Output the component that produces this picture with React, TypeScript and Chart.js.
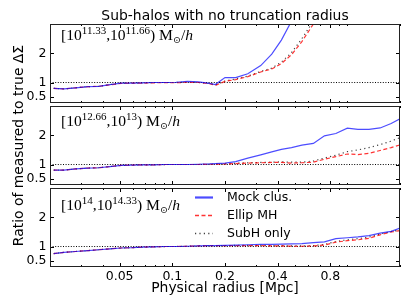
import React, { useEffect, useRef } from 'react';
import { Chart, registerables } from 'chart.js';

Chart.register(...registerables);

// ---------------- data ----------------
const radii = [0.021, 0.024, 0.028, 0.033, 0.038, 0.044, 0.051, 0.059, 0.068, 0.079, 0.091, 0.105, 0.122, 0.141, 0.163, 0.176, 0.2, 0.23, 0.27, 0.32, 0.37, 0.42, 0.48, 0.55, 0.64, 0.74, 0.86, 1.0, 1.15, 1.33, 1.54, 1.78, 2.0];

const p1Mock = [0.80, 0.78, 0.82, 0.86, 0.87, 0.93, 0.98, 0.98, 0.99, 1.0, 1.0, 1.01, 1.04, 1.02, 0.97, 0.93, 1.17, 1.17, 1.3, 1.58, 1.97, 2.45, 3.1, 3.8, 4.6, 5.5, 6.4, 7.3, 8.2, 9.0, 9.8, 10.5, 11.2];
const p1Ellip = [0.80, 0.78, 0.82, 0.86, 0.87, 0.92, 0.97, 0.98, 0.98, 0.99, 1.0, 0.99, 1.01, 1.0, 0.96, 0.90, 1.04, 1.1, 1.2, 1.36, 1.46, 1.65, 1.95, 2.4, 3.0, 3.7, 4.5, 5.3, 6.1, 6.9, 7.7, 8.5, 9.2];
const p1SubH = [0.80, 0.78, 0.82, 0.86, 0.87, 0.93, 0.98, 0.98, 0.99, 1.0, 1.0, 1.0, 1.01, 1.0, 0.97, 0.92, 1.05, 1.12, 1.22, 1.38, 1.49, 1.7, 2.02, 2.5, 3.1, 3.8, 4.6, 5.4, 6.2, 7.0, 7.8, 8.6, 9.3];

const p2Mock = [0.81, 0.81, 0.85, 0.88, 0.89, 0.93, 0.97, 0.98, 0.99, 0.99, 1.0, 1.0, 1.0, 1.01, 1.02, 1.03, 1.05, 1.1, 1.22, 1.33, 1.43, 1.52, 1.58, 1.66, 1.72, 1.98, 2.06, 2.24, 2.2, 2.2, 2.25, 2.4, 2.56];
const p2Ellip = [0.81, 0.81, 0.85, 0.88, 0.89, 0.93, 0.97, 0.98, 0.99, 0.99, 1.0, 1.0, 1.0, 1.0, 1.01, 1.01, 1.02, 1.03, 1.05, 1.06, 1.07, 1.07, 1.05, 1.06, 1.08, 1.18, 1.27, 1.36, 1.34, 1.38, 1.48, 1.58, 1.67];
const p2SubH = [0.81, 0.81, 0.85, 0.88, 0.89, 0.93, 0.97, 0.98, 0.99, 0.99, 1.0, 1.0, 1.0, 1.0, 1.01, 1.01, 1.02, 1.04, 1.06, 1.07, 1.08, 1.09, 1.08, 1.08, 1.12, 1.22, 1.32, 1.44, 1.5, 1.58, 1.68, 1.8, 1.92];

const p3Mock = [0.76, 0.8, 0.83, 0.86, 0.89, 0.92, 0.95, 0.96, 0.98, 0.99, 1.0, 1.0, 1.01, 1.02, 1.03, 1.03, 1.04, 1.05, 1.06, 1.07, 1.07, 1.08, 1.09, 1.1, 1.13, 1.16, 1.27, 1.3, 1.33, 1.37, 1.46, 1.52, 1.63];
const p3Ellip = [0.76, 0.8, 0.83, 0.86, 0.89, 0.92, 0.95, 0.96, 0.98, 0.99, 1.0, 1.0, 1.01, 1.02, 1.03, 1.03, 1.03, 1.03, 1.03, 1.03, 1.02, 1.02, 1.01, 1.01, 1.02, 1.05, 1.15, 1.2, 1.23, 1.28, 1.4, 1.5, 1.54];
const p3SubH = [0.76, 0.8, 0.83, 0.86, 0.89, 0.92, 0.95, 0.96, 0.98, 0.99, 1.0, 1.0, 1.01, 1.02, 1.03, 1.03, 1.03, 1.04, 1.04, 1.04, 1.03, 1.03, 1.02, 1.02, 1.03, 1.07, 1.17, 1.23, 1.27, 1.32, 1.43, 1.51, 1.57];

const refX = [0.02, 2];
const refY = [1, 1];

const seriesNames = ['Mock clus.', 'Ellip MH', 'SubH only'];
const panelSeries = [
  [p1Mock, p1Ellip, p1SubH],
  [p2Mock, p2Ellip, p2SubH],
  [p3Mock, p3Ellip, p3SubH],
];
const massLo = ['11.33', '12.66', '14'];
const massHi = ['11.66', '13', '14.33'];

const xTickValues = [0.05, 0.1, 0.2, 0.4, 0.8];
const xTickLabels = ['0.05', '0.1', '0.2', '0.4', '0.8'];
const xMinorValues = [0.02, 0.03, 0.04, 0.06, 0.07, 0.08, 0.09, 0.3, 0.5, 0.6, 0.7, 0.9, 1, 2];
const yTickValues = [0.5, 1, 2];
const yTickLabels = ['0.5', '1', '2'];

const titleText = 'Sub-halos with no truncation radius';
const yTitleText = 'Ratio of measured to true ΔΣ';
const xTitleText = 'Physical radius [Mpc]';

// ---------------- layout / style ----------------
const W = 407;
const H = 307;
const SANS = '"DejaVu Sans", sans-serif';
const SERIF = '"Liberation Serif", "DejaVu Serif", serif';
const PANEL_TOP = [24, 106, 188];
const PANEL_BOTTOM = [103, 185, 267];
const LABEL_OFFSET = [16, 20, 22];

const seriesStyle = [
  { color: 'rgba(0,0,255,0.7)', dash: [] as number[], width: 1.2, legendWidth: 2.2 },
  { color: 'rgba(255,0,0,0.8)', dash: [4, 2.5], width: 1.2, legendWidth: 1.3 },
  { color: 'rgba(0,0,0,0.75)', dash: [1.2, 3.2], width: 1.2, legendWidth: 1.3 },
];

function drawMassLabel(ctx: CanvasRenderingContext2D, x: number, y: number, lo: string, hi: string) {
  const big = `15.6px ${SERIF}`;
  const small = `11px ${SERIF}`;
  const parts = [
    { t: '[10', f: big, dy: 0 },
    { t: lo, f: small, dy: -6.5 },
    { t: ',10', f: big, dy: 0 },
    { t: hi, f: small, dy: -6.5 },
    { t: ') M', f: big, dy: 0 },
    { t: '⊙', f: `9.5px "DejaVu Serif", serif`, dy: 3 },
    { t: '/', f: big, dy: 0 },
    { t: 'h', f: `italic 15.6px ${SERIF}`, dy: 0 },
  ];
  let cx = x;
  ctx.fillStyle = '#000';
  ctx.textAlign = 'left';
  ctx.textBaseline = 'alphabetic';
  for (const p of parts) {
    ctx.font = p.f;
    ctx.fillText(p.t, cx, y + p.dy);
    cx += ctx.measureText(p.t).width;
  }
}

function makeConfig(i: number): any {
  const isBottom = i === 2;
  const isTop = i === 0;
  const datasets: any[] = panelSeries[i].map((arr, k) => ({
    label: seriesNames[k],
    data: radii.map((r, j) => ({ x: r, y: arr[j] })),
    borderColor: seriesStyle[k].color,
    borderDash: seriesStyle[k].dash,
    borderWidth: seriesStyle[k].width,
    pointRadius: 0,
    tension: 0,
    fill: false,
    order: k + 1,
  }));
  datasets.push({
    label: '',
    data: refX.map((r, j) => ({ x: r, y: refY[j] })),
    borderColor: '#000',
    borderDash: [1, 1.6],
    borderWidth: 1,
    pointRadius: 0,
    fill: false,
    order: 10,
  });

  const framePlugin = {
    id: 'frame' + i,
    afterDraw(chart: any) {
      const { ctx, chartArea } = chart;
      const { left, top, right, bottom } = chartArea;
      const xs = chart.scales.x;
      const ys = chart.scales.y;
      ctx.save();
      ctx.strokeStyle = '#000';
      ctx.lineWidth = 1;
      ctx.setLineDash([]);
      ctx.beginPath();
      for (const v of xTickValues) {
        const px = Math.round(xs.getPixelForValue(v)) + 0.5;
        ctx.moveTo(px, bottom); ctx.lineTo(px, bottom - 4);
        ctx.moveTo(px, top); ctx.lineTo(px, top + 4);
      }
      for (const v of xMinorValues) {
        const px = Math.round(xs.getPixelForValue(v)) + 0.5;
        ctx.moveTo(px, bottom); ctx.lineTo(px, bottom - 2);
        ctx.moveTo(px, top); ctx.lineTo(px, top + 2);
      }
      for (const v of yTickValues) {
        const py = Math.round(ys.getPixelForValue(v)) + 0.5;
        ctx.moveTo(left, py); ctx.lineTo(left + 4, py);
        ctx.moveTo(right, py); ctx.lineTo(right - 4, py);
      }
      ctx.stroke();
      ctx.strokeStyle = '#222';
      ctx.strokeRect(left + 0.5, top + 0.5, right - left - 1, bottom - top - 1);

      drawMassLabel(ctx, 61, top + LABEL_OFFSET[i], massLo[i], massHi[i]);

      if (isBottom) {
        const ds = chart.data.datasets;
        const lx0 = 195, lx1 = 213, tx = 227;
        const rows = [top + 9, top + 27, top + 45];
        for (let k = 0; k < 3; k++) {
          const d = ds[k];
          ctx.beginPath();
          ctx.strokeStyle = d.borderColor;
          ctx.setLineDash(d.borderDash || []);
          ctx.lineWidth = seriesStyle[k].legendWidth;
          ctx.moveTo(lx0, rows[k] + 0.5);
          ctx.lineTo(lx1, rows[k] + 0.5);
          ctx.stroke();
          ctx.setLineDash([]);
          ctx.fillStyle = '#000';
          ctx.font = `12.5px ${SANS}`;
          ctx.textAlign = 'left';
          ctx.textBaseline = 'middle';
          ctx.fillText(d.label, tx, rows[k] + 0.5);
        }
      }
      ctx.restore();
    },
  };

  const scales: any = {
    x: {
      type: 'logarithmic',
      min: 0.02,
      max: 2,
      display: isBottom,
      afterBuildTicks: (s: any) => { s.ticks = xTickValues.map((v) => ({ value: v })); },
      afterFit: (s: any) => { if (isBottom) s.height = H - PANEL_BOTTOM[2]; },
      grid: { display: false, drawTicks: false },
      border: { display: false },
      ticks: {
        autoSkip: false,
        maxRotation: 0,
        color: '#000',
        padding: 2,
        font: { family: SANS, size: 12.5 },
        callback: (v: any) => {
          const idx = xTickValues.indexOf(Number(v));
          return idx >= 0 ? xTickLabels[idx] : '';
        },
      },
      title: {
        display: true,
        text: xTitleText,
        color: '#000',
        font: { family: SANS, size: 13.9, lineHeight: 1 },
        padding: { top: 0, bottom: 11.5 },
      },
    },
    y: {
      type: 'linear',
      min: 0.3,
      max: 3,
      afterBuildTicks: (s: any) => { s.ticks = yTickValues.map((v) => ({ value: v })); },
      afterFit: (s: any) => { s.width = 50; },
      grid: { display: false, drawTicks: false },
      border: { display: false },
      ticks: {
        color: '#000',
        padding: 3.5,
        font: { family: SANS, size: 12.5 },
        callback: (v: any) => {
          const idx = yTickValues.indexOf(Number(v));
          return idx >= 0 ? yTickLabels[idx] : '';
        },
      },
      title: {
        display: i === 1,
        text: yTitleText,
        color: '#000',
        font: { family: SANS, size: 13.9, lineHeight: 1 },
        padding: { top: 12, bottom: 0 },
      },
    },
  };
  if (isTop) {
    scales.xTop = {
      type: 'logarithmic',
      position: 'top',
      min: 0.02,
      max: 2,
      display: true,
      afterFit: (s: any) => { s.height = PANEL_TOP[0]; },
      grid: { display: false, drawTicks: false },
      border: { display: false },
      ticks: { display: false },
      title: {
        display: true,
        text: titleText,
        color: '#000',
        font: { family: SANS, size: 13.9, lineHeight: 1 },
        padding: { top: 9, bottom: 0 },
      },
    };
  }

  return {
    type: 'line',
    data: { datasets },
    plugins: [framePlugin],
    options: {
      animation: false,
      responsive: false,
      devicePixelRatio: 1,
      events: [],
      layout: {
        padding: {
          left: 0,
          right: W - 400,
          top: isTop ? 0 : PANEL_TOP[i],
          bottom: isBottom ? 0 : H - PANEL_BOTTOM[i],
        },
      },
      plugins: {
        legend: { display: false },
        tooltip: { enabled: false },
        title: { display: false },
      },
      scales,
    },
  };
}

export default function App() {
  const r0 = useRef<HTMLCanvasElement>(null);
  const r1 = useRef<HTMLCanvasElement>(null);
  const r2 = useRef<HTMLCanvasElement>(null);

  useEffect(() => {
    const refs = [r0, r1, r2];
    const charts = refs.map((r, i) => new Chart(r.current as HTMLCanvasElement, makeConfig(i)));
    return () => charts.forEach((c) => c.destroy());
  }, []);

  const cs: React.CSSProperties = { position: 'absolute', left: 0, top: 0, width: W, height: H };
  return (
    <div style={{ position: 'fixed', left: 0, top: 0, width: W, height: H, background: '#fff' }}>
      <canvas ref={r0} width={W} height={H} style={cs} />
      <canvas ref={r1} width={W} height={H} style={cs} />
      <canvas ref={r2} width={W} height={H} style={cs} />
    </div>
  );
}
